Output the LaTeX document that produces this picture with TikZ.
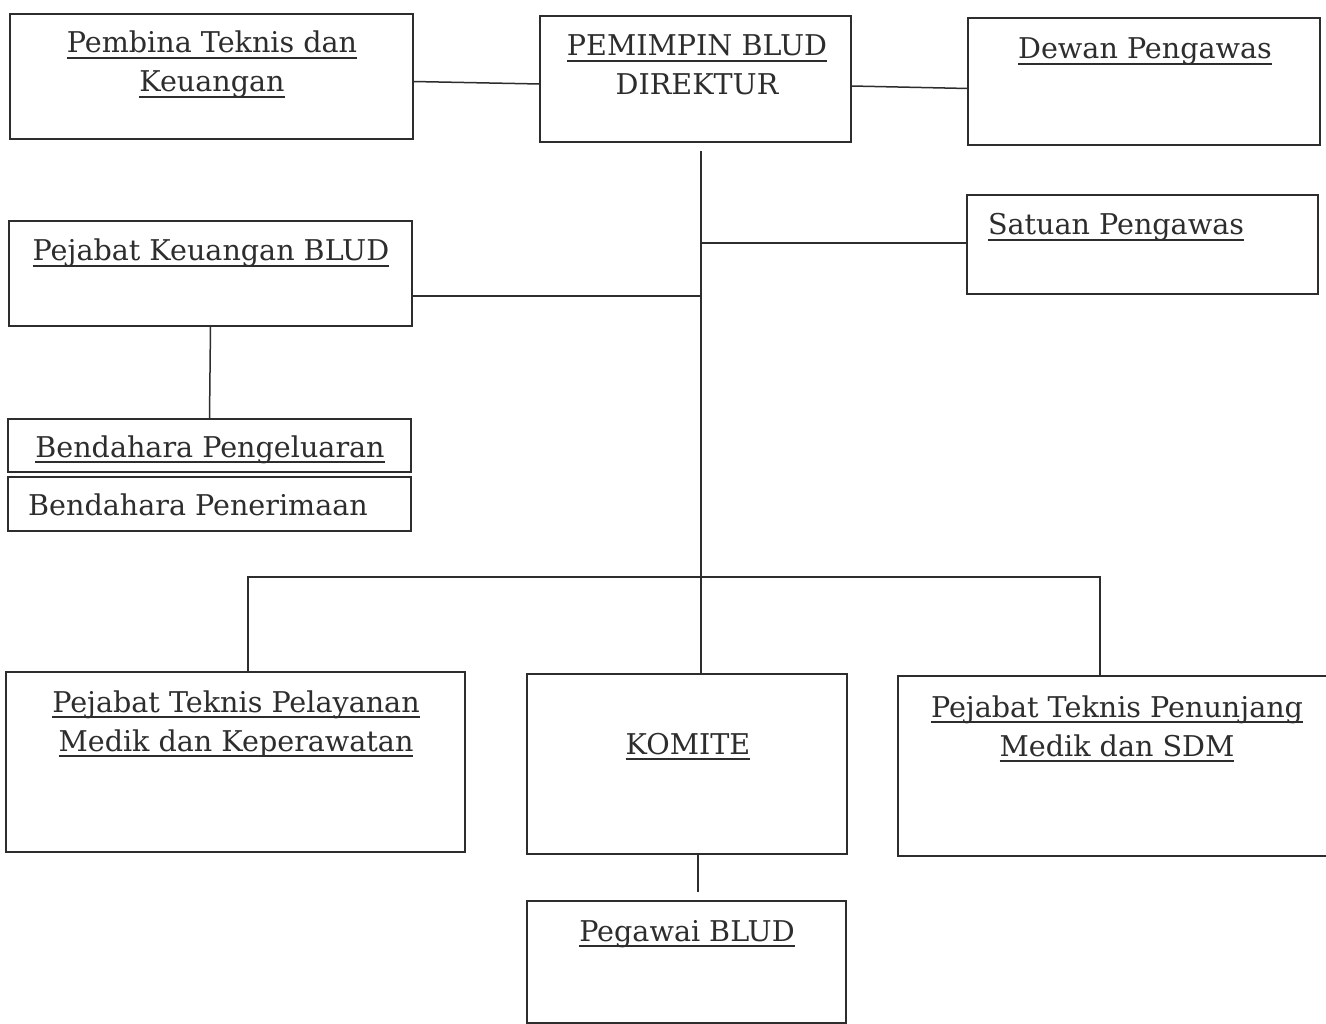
\documentclass[tikz,border=0pt]{standalone}
\usepackage{fontspec}
\setmainfont{DejaVu Serif}
\usetikzlibrary{calc}
\definecolor{ink}{RGB}{45,45,45}
\newcommand\ulx[1]{\setbox0\hbox{#1}\rlap{\rule[-6pt]{\wd0}{1.6pt}}\box0}
\tikzset{
  orgbox/.style={draw=ink, line width=1.7pt, inner sep=0pt, outer sep=0pt, fill=none},
  lbl/.style={anchor=base, inner sep=0pt, text=ink, font=\fontsize{28.6}{39}\selectfont},
  conn/.style={draw=ink, line width=1.5pt}
}
\newcommand\mkbox[5]{\node[orgbox, minimum width=#4-#2, minimum height=#5-#3] (#1) at ({(#2+#4)/2},{(#3+#5)/2}) {};}
\begin{document}
\begin{tikzpicture}[x=1pt,y=-1pt]
\useasboundingbox (0,0) rectangle (1326,1024);
\clip (0,0) rectangle (1326,1024);
\fill[white] (0,0) rectangle (1326,1024);
% boxes
\mkbox{pembina}{10}{14}{413}{139}
\mkbox{pemimpin}{540}{16}{851}{142}
\mkbox{dewan}{968}{18}{1320}{145}
\mkbox{satuan}{967}{195}{1318}{294}
\mkbox{keuangan}{9}{221}{412}{326}
\mkbox{peng}{8}{419}{411}{472}
\mkbox{pener}{8}{477}{411}{531}
\mkbox{pelayanan}{6}{672}{465}{852}
\mkbox{komite}{527}{674}{847}{854}
\mkbox{penunjang}{898}{676}{1340}{856}
\mkbox{pegawai}{527}{901}{846}{1023}
% labels
\node[lbl] (t1a) at (212,53) {\ulx{Pembina Teknis dan}};
\node[lbl] (t1b) at (212,92) {\ulx{Keuangan}};
\node[lbl] (t2a) at (697,56) {\ulx{PEMIMPIN BLUD}};
\node[lbl] (t2b) at (697,95) {DIREKTUR};
\node[lbl] (t3) at (1145,59) {\ulx{Dewan Pengawas}};
\node[lbl] (t4) at (1116,235) {\ulx{Satuan Pengawas}};
\node[lbl] (t5) at (211,261) {\ulx{Pejabat Keuangan BLUD}};
\node[lbl] (t6) at (210,457) {\ulx{Bendahara Pengeluaran}};
\node[lbl] (t7) at (198,515) {Bendahara Penerimaan};
\node[lbl] (t8a) at (236,712) {\ulx{Pejabat Teknis Pelayanan}};
\node[lbl] (t8b) at (236,751) {\ulx{Medik dan Keperawatan}};
\node[lbl] (t9) at (688,754) {\ulx{KOMITE}};
\node[lbl] (t10a) at (1117,717) {\ulx{Pejabat Teknis Penunjang}};
\node[lbl] (t10b) at (1117,756) {\ulx{Medik dan SDM}};
\node[lbl] (t11) at (687,941) {\ulx{Pegawai BLUD}};
% connector points
\coordinate (ttop) at (701,151);
\coordinate (js) at (701,243);
\coordinate (jk) at (701,296);
\coordinate (bl) at (248,577);
\coordinate (br) at (1100,577);
\coordinate (kp) at (698,892);
% connectors
\draw[conn] ($(pembina.east)+(0,5)$) -- ($(pemimpin.west)+(0,5)$);
\draw[conn] ($(pemimpin.east)+(0,7)$) -- ($(dewan.west)+(0,7)$);
\draw[conn] (ttop) -- (ttop |- komite.north);
\draw[conn] (js) -- (satuan.west |- js);
\draw[conn] (keuangan.east |- jk) -- (jk);
\draw[conn] (keuangan.south) -- (peng.north);
\draw[conn] (bl |- pelayanan.north) -- (bl) -- (br) -- (br |- penunjang.north);
\draw[conn] (kp |- komite.south) -- (kp);
\end{tikzpicture}
\end{document}
